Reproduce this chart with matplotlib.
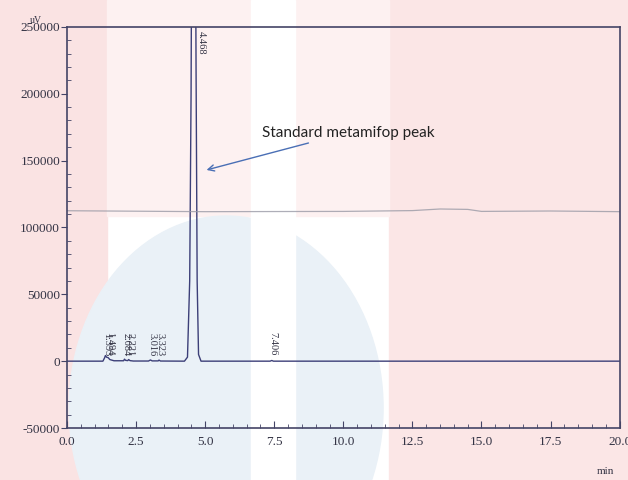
import matplotlib
matplotlib.use("Agg")
import matplotlib.pyplot as plt
from matplotlib.patches import Rectangle, Ellipse

tiempo = [0.0, 1.30, 1.36, 1.39, 1.43, 1.49, 1.55, 1.70, 2.05, 2.08, 2.12, 2.20, 2.23, 2.28,
          2.40, 2.95, 3.02, 3.08, 3.30, 3.33, 3.38, 4.25, 4.36, 4.44, 4.49, 4.53, 4.58,
          4.63, 4.67, 4.71, 4.76, 4.85, 7.35, 7.41, 7.47, 20.0]
senal = [0, 0, 2500, 4200, 3000, 2600, 1200, 300, 300, 1500, 600, 400, 1200, 400,
         100, 100, 900, 200, 200, 800, 100, 0, 3000, 60000, 200000, 420000, 520000,
         430000, 220000, 60000, 5000, 0, 0, 500, 0, 0]

picos_t = [1.393, 1.494, 2.084, 2.221, 3.016, 3.323, 7.406]
picos_txt = ["1.393", "1.494", "2.084", "2.221", "3.016", "3.323", "7.406"]
pico_principal = 4.468

# linea horizontal del escaneo (artefacto del papel)
artef_t = [0.0, 5.0, 10.0, 12.5, 13.5, 14.5, 15.0, 17.5, 20.0]
artef_y = [112500, 111800, 112000, 112600, 113800, 113500, 112000, 112300, 111800]

fig = plt.figure(figsize=(6.28, 4.8), dpi=100)
fig.patch.set_facecolor("white")

# fondo tipo marca de agua
fondo = [
    Rectangle((0, 0), 0.17, 1, color="#fae3e3"),
    Rectangle((0.62, 0), 0.38, 1, color="#fbe6e6"),
    Rectangle((0.17, 0.55), 0.23, 0.45, color="#fdf1f1"),
    Rectangle((0.47, 0.55), 0.15, 0.45, color="#fdf1f1"),
    Ellipse((0.36, 0.15), 0.5, 0.8, color="#eaf1f7"),
    Rectangle((0.40, 0.0), 0.07, 1, color="white"),
]
for p in fondo:
    p.set_transform(fig.transFigure)
    p.set_zorder(-10)
    fig.patches.append(p)

ax = fig.add_axes([0.1067, 0.1083, 0.880, 0.8357])
ax.set_facecolor("none")
ax.set_zorder(5)

ax.plot(tiempo, senal, color="#3c3f78", lw=1.0)
ax.plot(artef_t, artef_y, color="#9a9aa6", lw=0.9, alpha=0.8)

ax.set_xlim(0, 20)
ax.set_ylim(-50000, 250000)
ax.set_xticks([0, 2.5, 5, 7.5, 10, 12.5, 15, 17.5, 20])
ax.set_xticklabels(["0.0", "2.5", "5.0", "7.5", "10.0", "12.5", "15.0", "17.5", "20.0"])
ax.set_yticks([-50000, 0, 50000, 100000, 150000, 200000, 250000])
ax.set_yticklabels(["-50000", "0", "50000", "100000", "150000", "200000", "250000"])
ax.set_xticks([x * 0.5 for x in range(41)], minor=True)
ax.set_yticks([y * 10000 for y in range(-5, 26)], minor=True)

serif = "Liberation Serif"
for lab in ax.get_xticklabels() + ax.get_yticklabels():
    lab.set_fontfamily(serif)
    lab.set_fontsize(9.5)
    lab.set_color("#333344")
ax.tick_params(axis="x", which="major", direction="in", length=5, color="#444466", pad=6)
ax.tick_params(axis="x", which="minor", direction="in", length=3, color="#444466")
ax.tick_params(axis="y", which="major", direction="out", length=4, color="#444466", pad=1)
ax.tick_params(axis="y", which="minor", direction="in", length=3, color="#444466")
for s in ax.spines.values():
    s.set_color("#444466")
    s.set_linewidth(1.2)

# etiquetas de tiempos de retencion
for t, txt in zip(picos_t, picos_txt):
    ax.text(t + 0.05, 4000, txt, rotation=270, fontsize=7.5, family=serif, color="#333344",
            ha="center", va="bottom")
ax.text(pico_principal + 0.38, 247000, "4.468", rotation=270, fontsize=7.5, family=serif,
        color="#333344", ha="center", va="top")

ax.text(-0.9, 255000, "uV", fontsize=7, family=serif, color="#333344", ha="right", va="center")
ax.text(19.5, -79000, "min", fontsize=8, family=serif, color="#333344", ha="center", va="top")

ax.annotate("Standard metamifop peak", xy=(5.05, 143000), xytext=(7.05, 171000),
            fontsize=11, family="Lato", color="#222222", va="center",
            arrowprops=dict(arrowstyle="->", color="#4a6fb5", lw=1.0,
                            shrinkA=2, shrinkB=0))

fig.savefig("out.png", dpi=100)
